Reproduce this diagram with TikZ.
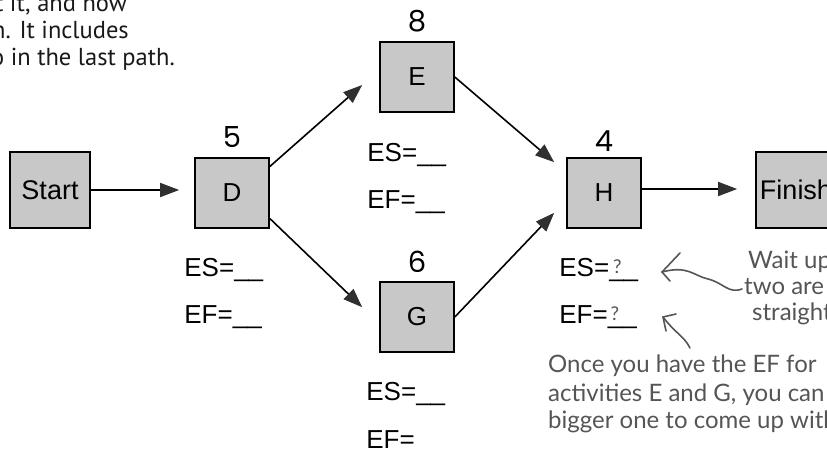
\documentclass[tikz,border=0pt]{standalone}
\usepackage{fontspec}
\setmainfont{Liberation Sans}
\newfontfamily\numfont{Poppins}
\newfontfamily\topfont{PT Sans}
\newfontfamily\handfont{Lato}
\usetikzlibrary{arrows.meta,calc}
\definecolor{boxgray}{HTML}{C8C8C8}
\definecolor{tipgray}{HTML}{303030}
\definecolor{pen}{HTML}{555555}
\begin{document}
\begin{tikzpicture}[x=1pt,y=-1pt,
  act/.style={draw=black,line width=1.6pt,fill=boxgray,minimum width=74pt,minimum height=70pt,inner sep=0pt,font=\fontsize{26}{28}\selectfont},
  endbox/.style={act,minimum width=80pt,minimum height=76pt,font=\fontsize{27}{29}\selectfont},
  arr/.style={line width=1.6pt,-{Triangle[length=19pt,width=14pt,color=tipgray]}},
  dur/.style={anchor=base,inner sep=0pt,font=\numfont\fontsize{29}{30}\selectfont},
  esef/.style={anchor=base west,inner sep=0pt,font=\fontsize{26}{28}\selectfont},
  toptxt/.style={anchor=base east,inner sep=0pt,font=\topfont\fontsize{24.5}{26}\selectfont,text=black!90},
  hand/.style={anchor=base west,inner sep=0pt,text=pen,font=\handfont\fontsize{24}{26}\selectfont},
  qm/.style={anchor=base,inner sep=0pt,text=pen,font=\handfont\fontsize{19}{20}\selectfont},
  penline/.style={draw=pen,line width=1.6pt,line cap=round,line join=round}
]
\useasboundingbox (0,0) rectangle (827,450);
\clip (0,0) rectangle (827,450);

% top-left text
\node[toptxt] (t1) at (127,11) {t it, and now};
\node[toptxt] (t2) at (129,38) {h. It includes};
\node[toptxt] (t3) at (175,65) {o in the last path.};

% boxes
\node[endbox] (Start) at (50,190) {Start};
\node[act] (D) at (232,193) {D};
\node[act] (E) at (417,77) {E};
\node[act] (G) at (417,317) {G};
\node[act] (H) at (604,193) {H};
\node[endbox] (Finish) at (796,190) {Finish};

% durations
\node[dur] (nD) at ($(D.north)+(0,-10)$) {5};
\node[dur] (nE) at ($(E.north)+(0,-10)$) {8};
\node[dur] (nG) at ($(G.north)+(0,-9)$) {6};
\node[dur] (nH) at ($(H.north)+(0,-6)$) {4};

% connectors
\draw[arr] (Start.east) -- ($(D.west |- Start.east)+(-15,0)$);
\draw[arr] (D.35) -- ($(E.west)+(-17,8)$);
\draw[arr] (D.-34) -- ($(G.north west)+(-17,26)$);
\draw[arr] (E.east) -- ($(H.north west)+(-12,5)$);
\draw[arr] (G.east) -- ($(H.south west)+(-12,-16)$);
\draw[arr] ($(H.east)+(0,-4)$) -- ($(Finish.west)+(-18,-1)$);

% ES / EF labels
\node[esef] (dES) at ($(D.south west)+(-10,48)$) {ES=\_\_};
\node[esef] (dEF) at ($(D.south west)+(-10,95)$) {EF=\_\_};
\node[esef] (eES) at ($(E.south west)+(-12,49)$) {ES=\_\_};
\node[esef] (eEF) at ($(E.south west)+(-12,96)$) {EF=\_\_};
\node[esef] (gES) at ($(G.south west)+(-13,48)$) {ES=\_\_};
\node[esef] (gEF) at ($(G.south west)+(-13,96)$) {EF=};
\node[esef] (hES) at ($(H.south west)+(-7,48)$) {ES=\_\_};
\node[esef] (hEF) at ($(H.south west)+(-7,95)$) {EF=\_\_};
\node[qm] (q1) at ($(hES.base east)+(-21,-3)$) {?};
\node[qm] (q2) at ($(hEF.base east)+(-22,-3)$) {?};

% handwritten notes
\node[hand] (w1) at (748,268) {Wait up};
\node[hand] (w2) at (744,294) {two are};
\node[hand] (w3) at (752,320) {straight};
\node[hand] (o1) at (548,372) {Once you have the EF for};
\node[hand] (o2) at (548,401) {activities E and G, you can};
\node[hand] (o3) at (548,428) {bigger one to come up with};

% note arrows
\coordinate (a1s) at (742,289);
\coordinate (a1t) at (662,272);
\draw[penline] (a1s) .. controls (728,294) and (724,283) .. (708,279)
   .. controls (694,276) and (688,265) .. (a1t);
\draw[penline] (a1t) -- (680,253);
\draw[penline] (a1t) -- (670,281);

\coordinate (a2s) at (690,348);
\coordinate (a2t) at (663,317);
\draw[penline] (a2s) .. controls (684,336) and (676,334) .. (a2t);
\draw[penline] (a2t) -- (676,314);
\draw[penline] (a2t) -- (666,331);
\end{tikzpicture}
\end{document}
